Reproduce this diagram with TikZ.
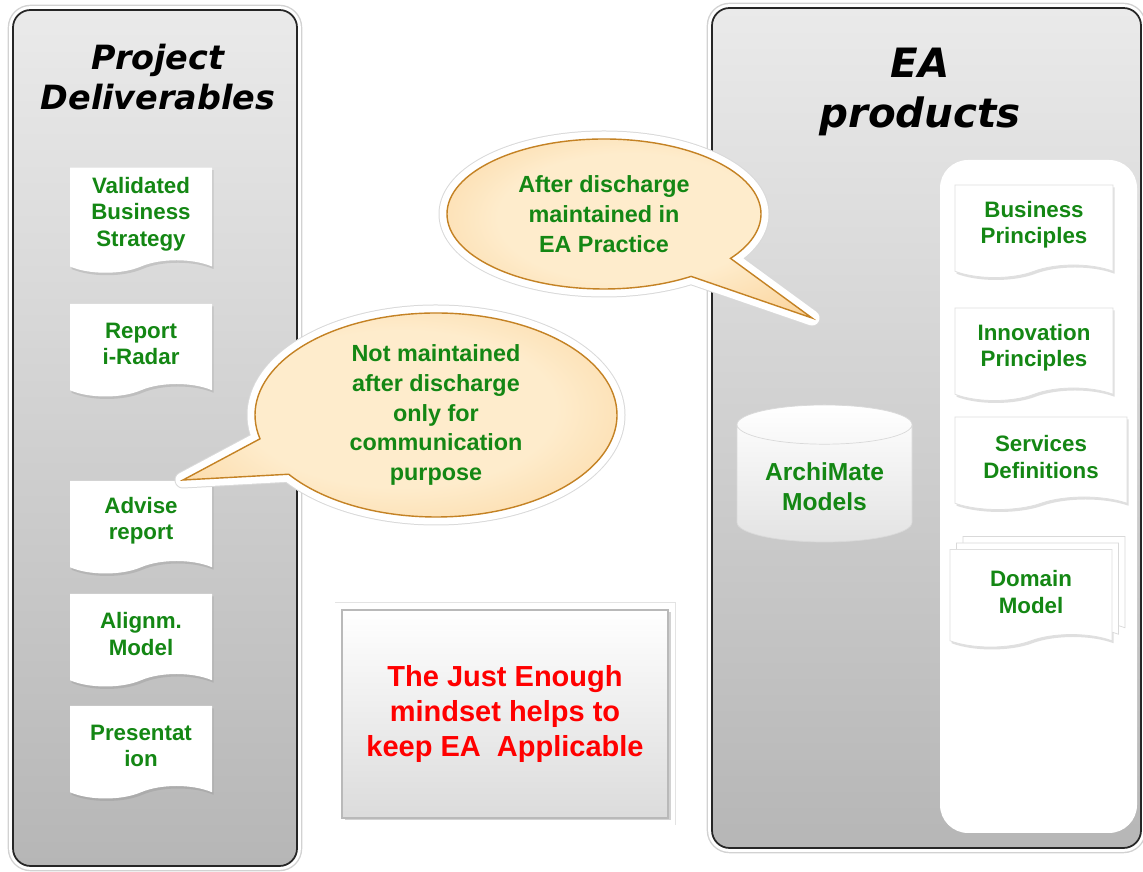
\documentclass[tikz,border=0pt]{standalone}
\usepackage{fontspec}
\setmainfont{Liberation Sans}
\newfontfamily\headfont{DejaVu Sans}
\usetikzlibrary{shapes.geometric,shapes.symbols,shapes.callouts,shadows}

\definecolor{docgreen}{RGB}{20,135,20}
\definecolor{panellight}{RGB}{234,234,234}
\definecolor{paneldark}{RGB}{182,182,182}
\definecolor{peachlight}{RGB}{254,236,204}
\definecolor{peachmid}{RGB}{251,214,160}
\definecolor{peachdark}{RGB}{236,168,78}
\definecolor{peachedge}{RGB}{196,130,36}

\pgfdeclareradialshading[peachlight,peachmid,peachdark]{bubbleshade}{\pgfpoint{0bp}{4bp}}{%
	color(0bp)=(peachlight); color(18bp)=(peachlight); color(34bp)=(peachmid);
	color(44bp)=(peachdark); color(70bp)=(peachdark)}

\begin{document}
\begin{tikzpicture}[
	panel/.style={
		draw=black!85, line width=1pt, rounded corners=10pt,
		top color=panellight, bottom color=paneldark,
		preaction={draw=gray!35, line width=6pt},
		preaction={draw=white, line width=4.4pt}
	},
	shelf/.style={
		fill=white, rounded corners=16pt,
		minimum width=3.94cm, minimum height=13.46cm
	},
	title/.style={
		font=\headfont\bfseries\itshape\fontsize{19}{23}\selectfont, align=center
	},
	doc/.style={
		tape, tape bend top=none, tape bend bottom=in and out, tape bend height=0.25cm,
		fill=white, minimum width=2.84cm, minimum height=1.85cm,
		font=\bfseries\fontsize{12.7}{15}\selectfont, text=docgreen,
		align=center, inner sep=2pt,
		drop shadow={shadow xshift=0.03cm, shadow yshift=-0.05cm, opacity=0.25}
	},
	rdoc/.style={doc, draw=gray!25, line width=0.4pt},
	store/.style={
		cylinder, shape border rotate=90, aspect=0.3,
		draw=gray!30, top color=white, bottom color=gray!22,
		minimum width=3.5cm, minimum height=2.74cm,
		font=\bfseries\fontsize{14}{17}\selectfont, text=docgreen, align=center
	},
	note/.style={
		draw=gray!55, line width=0.8pt, top color=white, bottom color=gray!28,
		minimum width=6.52cm, minimum height=4.16cm,
		font=\bfseries\fontsize{16.5}{20}\selectfont, text=red, align=center,
		preaction={draw=gray!22, line width=0.3cm, rounded corners=4pt},
		preaction={draw=white, line width=0.27cm, rounded corners=4pt},
		drop shadow={shadow xshift=0.05cm, shadow yshift=-0.05cm, opacity=0.35}
	},
	bubble/.style={
		ellipse callout, inner sep=0pt, align=center, text=docgreen,
		font=\bfseries\fontsize{13.3}{17}\selectfont,
		shading=bubbleshade, draw=peachedge, line width=0.8pt,
		preaction={draw=gray!30, line width=0.34cm, line join=round},
		preaction={draw=white, line width=0.3cm, line join=round}
	},
	]
	\useasboundingbox (0,0) rectangle (22.86,17.44);
	
	% Panels
	\node[panel, minimum width=5.68cm, minimum height=17.12cm] (pdpanel) at (3.10, 8.68) {};
	\node[panel, minimum width=8.58cm, minimum height=16.8cm]  (eapanel) at (18.53, 8.88) {};
	\node[shelf] (shelf) at (20.77, 7.51) {};
	
	% Titles
	\node[title] (pdtitle) at (3.16, 15.9) {Project\\Deliverables};
	\node[title, font=\headfont\bfseries\itshape\fontsize{23}{28}\selectfont]
	(eatitle) at (18.4, 15.6) {EA\\products};
	
	% Project deliverables (x=2.82)
	\node[doc, minimum height=2.1cm] (vbs) at (2.82, 13.16) {Validated\\Business\\Strategy};
	\node[doc] (radar)  at (2.82, 10.56) {Report\\i-Radar};
	\node[doc] (advise) at (2.82, 7.02)  {Advise\\report};
	\node[doc] (align)  at (2.82, 4.76)  {Alignm.\\Model};
	\node[doc] (pres)   at (2.82, 2.52)  {Presentat\\ion};
	
	% EA products
	\node[store] (archi) at (16.49, 7.70) {ArchiMate\\Models};
	\node[rdoc, minimum width=3.16cm] (bp) at (20.68, 12.94) {Business\\Principles};
	\node[rdoc, minimum width=3.16cm] (ip) at (20.68, 10.48) {Innovation\\Principles};
	\node[rdoc, minimum width=3.44cm] (sd) at (20.82, 8.30)  {Services\\Definitions};
	\node[rdoc, minimum width=3.24cm, minimum height=1.95cm,
	double copy shadow={shadow xshift=0.13cm, shadow yshift=0.13cm, fill=white, draw=gray!30}]
	(dm) at (20.62, 5.6) {Domain\\Model};
	
	% Just enough note
	\node[note] (just) at (10.1, 3.16) {The Just Enough\\mindset helps to\\keep EA~ Applicable};
	
	% Callouts
	\coordinate (tipea) at (16.24, 11.08);
	\coordinate (tippd) at (3.66, 7.84);
	\node[bubble, minimum width=6.28cm, minimum height=3.0cm,
	callout absolute pointer={(tipea)}, callout pointer arc=20]
	(kept) at (12.08, 13.16) {After discharge\\maintained in\\EA Practice};
	\node[bubble, minimum width=7.24cm, minimum height=4.08cm,
	callout absolute pointer={(tippd)}, callout pointer arc=22]
	(dropped) at (8.72, 9.14) {Not maintained\\after discharge\\only for\\communication\\purpose};
	
\end{tikzpicture}
\end{document}
